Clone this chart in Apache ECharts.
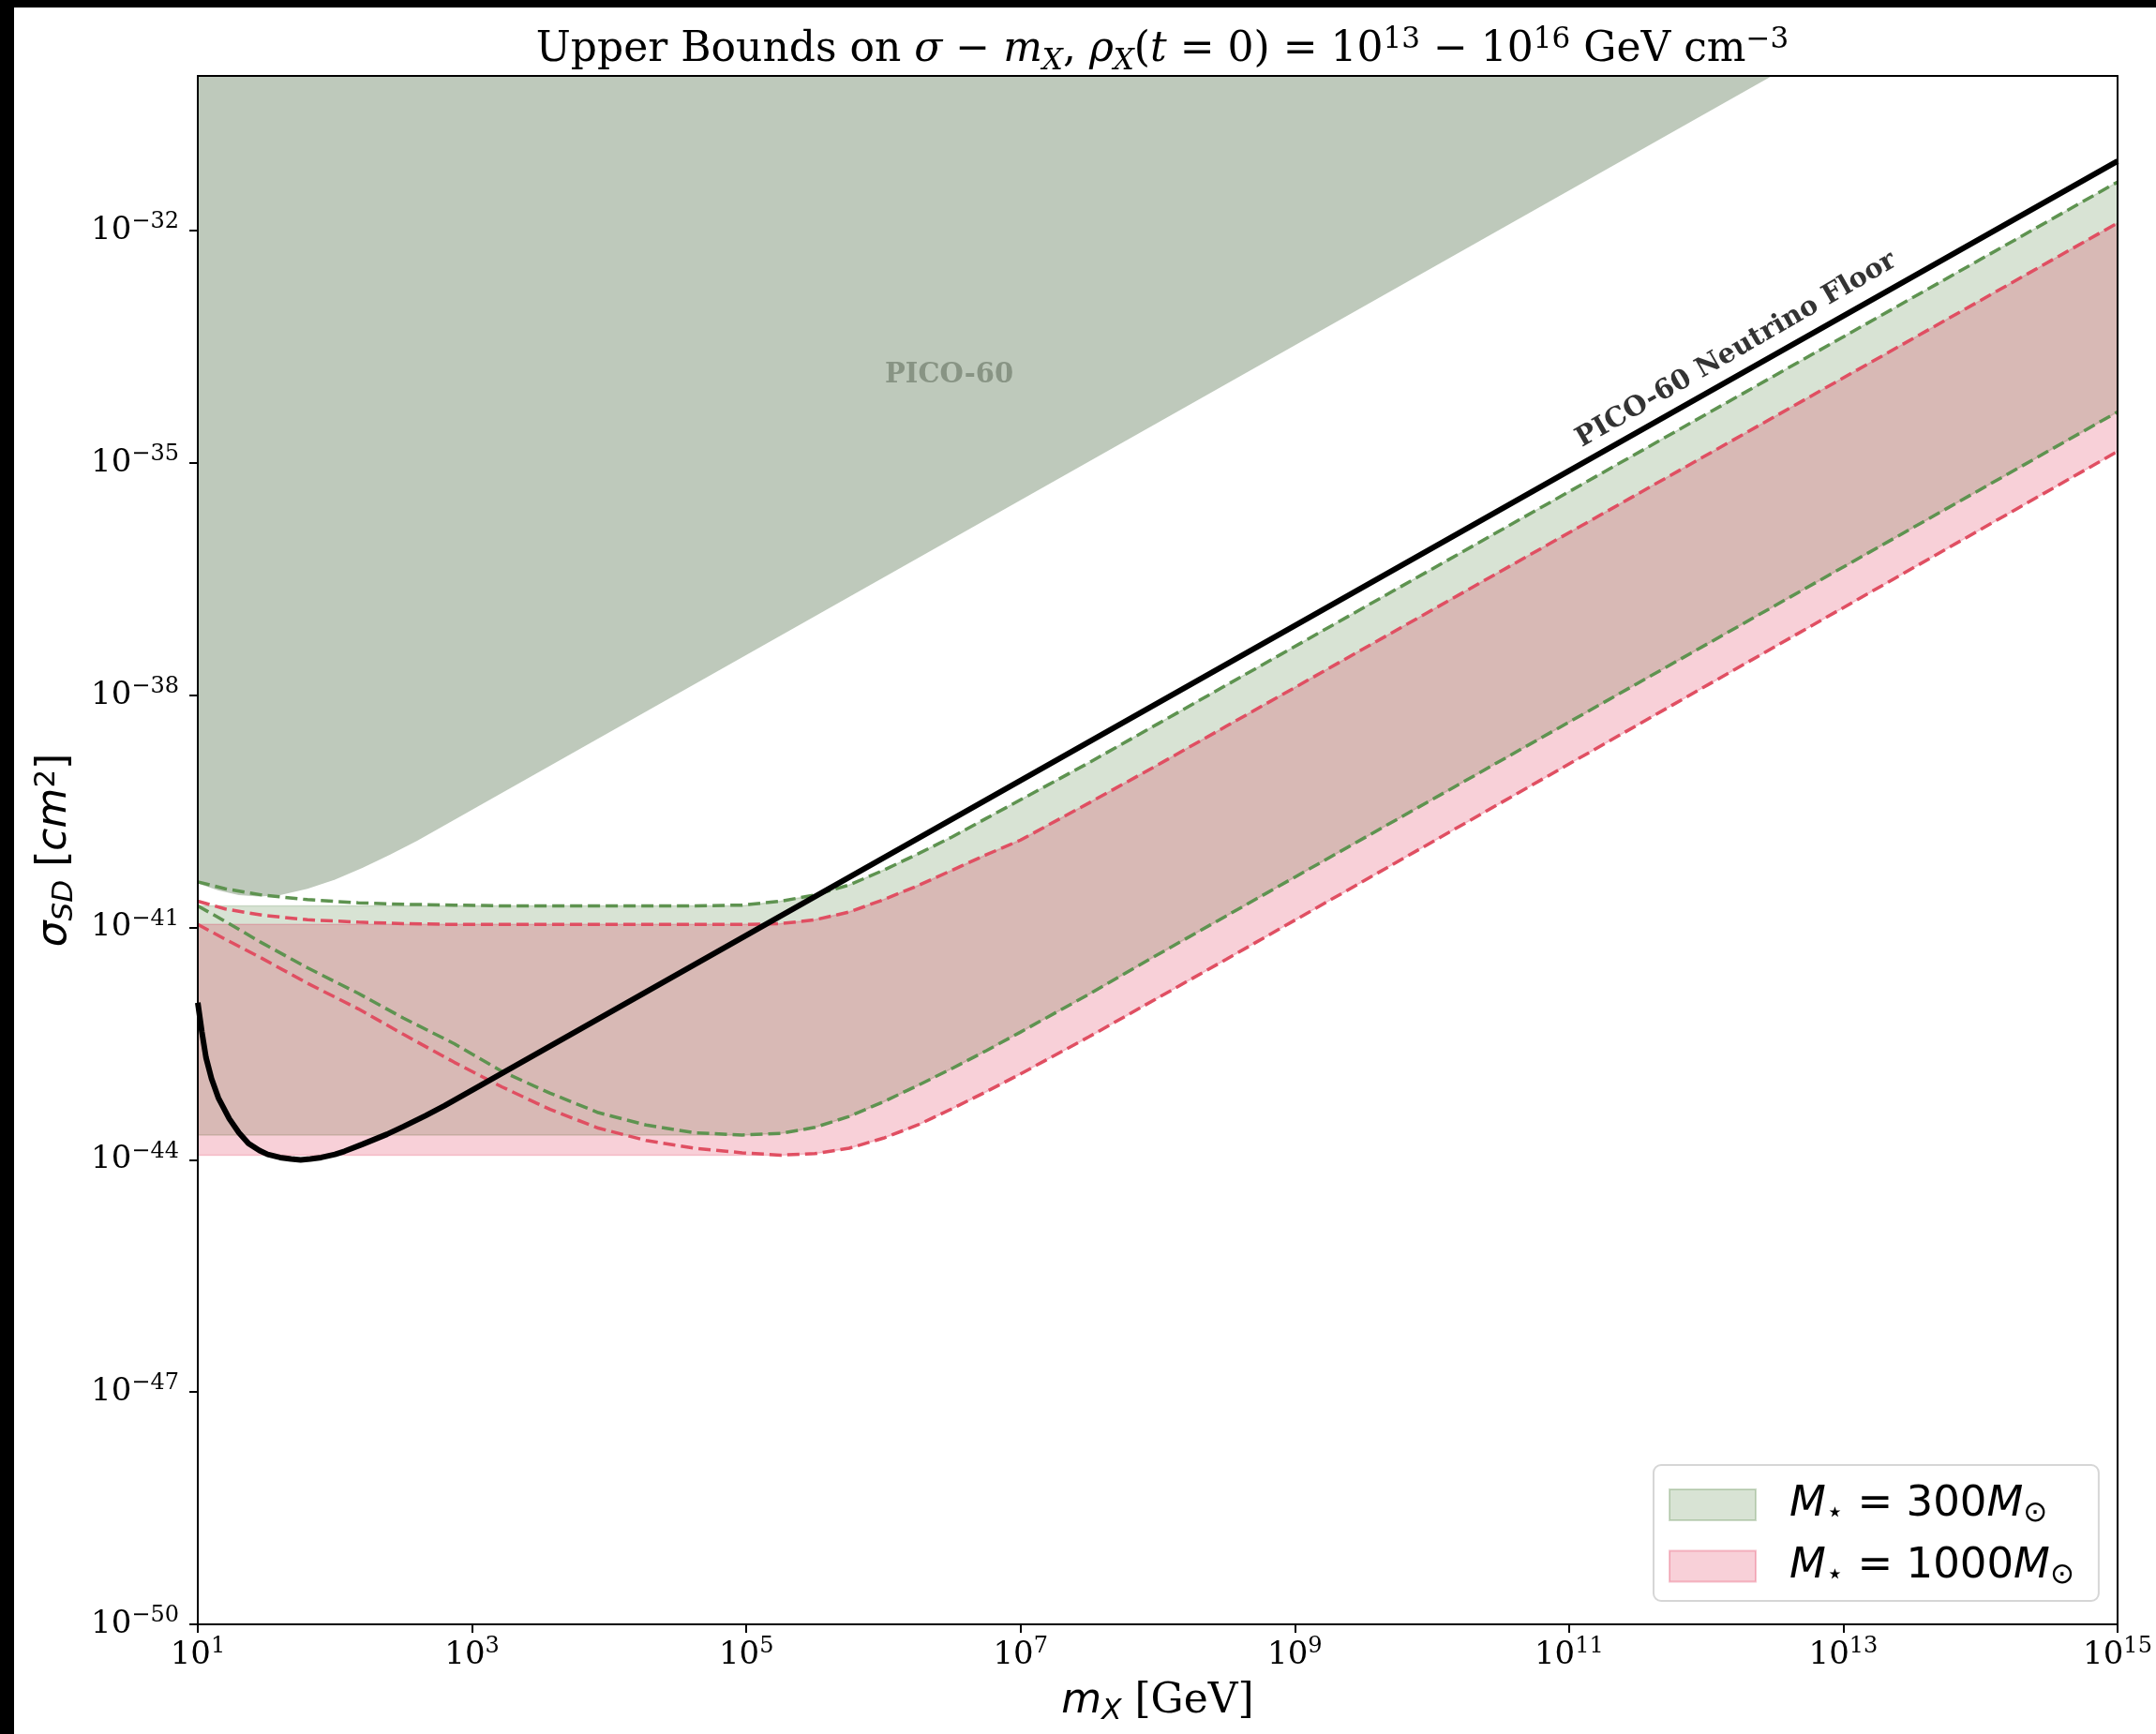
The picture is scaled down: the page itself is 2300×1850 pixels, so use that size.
<!DOCTYPE html>
<html>
<head>
<meta charset="utf-8">
<title>Upper Bounds on sigma - m_X</title>
<script src="https://cdn.jsdelivr.net/npm/echarts@6/dist/echarts.min.js"></script>
<style>
  html, body { margin: 0; padding: 0; background: #fff; }
  #chart { width: 2300px; height: 1850px; }
</style>
</head>
<body>
<div id="chart"></div>
<script>
// every value is a decimal exponent: x = log10(m_X / GeV), y = log10(sigma_SD / cm^2)
const xTicks = [1, 3, 5, 7, 9, 11, 13, 15];
const yTicks = [-50, -47, -44, -41, -38, -35, -32];

// lower edge of the PICO-60 excluded region
const picoX = [1.0, 1.15, 1.3, 1.45, 1.6, 1.8, 2.0, 2.2, 2.4, 2.6, 12.48];
const picoY = [-40.43, -40.52, -40.58, -40.6, -40.58, -40.5, -40.38, -40.23, -40.06, -39.88, -30.0];

// PICO-60 neutrino floor
const floorX = [1.0, 1.03, 1.06, 1.1, 1.15, 1.23, 1.3, 1.37, 1.45, 1.51, 1.6, 1.68, 1.75, 1.82,
  1.9, 2.0, 2.07, 2.2, 2.38, 2.5, 2.66, 2.8, 3.0, 15.0];
const floorY = [-41.97, -42.35, -42.68, -42.95, -43.2, -43.47, -43.65, -43.79, -43.88, -43.93, -43.97, -43.99, -44.0, -43.99,
  -43.97, -43.93, -43.89, -43.8, -43.67, -43.57, -43.43, -43.3, -43.1, -31.1];

// mass grid shared by the two M_star bands
const bandX = [1.0, 1.2, 1.47, 1.8, 2.17, 2.5, 2.87, 3.22, 3.57, 3.92, 4.27, 4.62, 4.97,
  5.25, 5.5, 5.75, 6.0, 6.25, 6.5, 6.75, 7.0, 7.5, 8.0, 8.5, 15.0];

// dashed curves
const m300Upper = [-40.41, -40.5, -40.58, -40.64, -40.68, -40.7, -40.71, -40.72, -40.72, -40.72, -40.72, -40.72, -40.71,
  -40.66, -40.58, -40.45, -40.26, -40.05, -39.83, -39.59, -39.35, -38.87, -38.37, -37.87, -31.37];
const m300Lower = [-40.72, -40.92, -41.2, -41.52, -41.85, -42.17, -42.5, -42.86, -43.14, -43.39, -43.55, -43.65, -43.68,
  -43.66, -43.58, -43.44, -43.25, -43.04, -42.82, -42.59, -42.35, -41.86, -41.35, -40.85, -34.34];
const m1000Upper = [-40.66, -40.76, -40.84, -40.9, -40.93, -40.95, -40.96, -40.96, -40.96, -40.96, -40.96, -40.96, -40.96,
  -40.95, -40.9, -40.8, -40.64, -40.46, -40.26, -40.06, -39.87, -39.39, -38.9, -38.4, -31.9];
const m1000Lower = [-40.96, -41.15, -41.4, -41.72, -42.05, -42.38, -42.74, -43.06, -43.35, -43.59, -43.75, -43.85, -43.91,
  -43.94, -43.92, -43.85, -43.72, -43.55, -43.34, -43.12, -42.89, -42.41, -41.91, -41.41, -34.85];

// shaded band edges (flat at low mass, then on the dashed curves)
const m300FillTop = [-40.72, -40.72, -40.72, -40.72, -40.72, -40.72, -40.72, -40.72, -40.72, -40.72, -40.72, -40.72, -40.72,
  -40.66, -40.58, -40.45, -40.26, -40.05, -39.83, -39.59, -39.35, -38.87, -38.37, -37.87, -31.37];
const m300FillBottom = [-43.68, -43.68, -43.68, -43.68, -43.68, -43.68, -43.68, -43.68, -43.68, -43.68, -43.68, -43.68, -43.68,
  -43.66, -43.58, -43.44, -43.25, -43.04, -42.82, -42.59, -42.35, -41.86, -41.35, -40.85, -34.34];
const m1000FillTop = [-40.96, -40.96, -40.96, -40.96, -40.96, -40.96, -40.96, -40.96, -40.96, -40.96, -40.96, -40.96, -40.96,
  -40.95, -40.9, -40.8, -40.64, -40.46, -40.26, -40.06, -39.87, -39.39, -38.9, -38.4, -31.9];
const m1000FillBottom = [-43.94, -43.94, -43.94, -43.94, -43.94, -43.94, -43.94, -43.94, -43.94, -43.94, -43.94, -43.94, -43.94,
  -43.94, -43.92, -43.85, -43.72, -43.55, -43.34, -43.12, -42.89, -42.41, -41.91, -41.41, -34.85];

// text notes inside the plot
const noteX = [6.48, 12.22];
const noteY = [-33.87, -33.54];
const noteText = ['PICO-60', 'PICO-60 Neutrino Floor'];

const SERIF = 'DejaVu Serif';
const SANS = 'DejaVu Sans';
const GREEN_FILL = 'rgba(60,115,40,0.2)';
const RED_FILL = 'rgba(220,20,60,0.2)';
const GREEN_LINE = '#5e9350';
const RED_LINE = '#e04f62';

const pairs = (xs, ys) => xs.map((x, i) => [x, ys[i]]);

function polygonSeries(name, xs, top, bottom, fill, z) {
  return {
    name: name,
    type: 'custom',
    coordinateSystem: 'cartesian2d',
    silent: true,
    z: z,
    data: [[xs[0], top[0]]],
    renderItem: function (params, api) {
      const pts = xs.map((x, i) => api.coord([x, top[i]]));
      for (let i = xs.length - 1; i >= 0; i--) pts.push(api.coord([xs[i], bottom[i]]));
      return {
        type: 'polygon',
        shape: { points: pts },
        style: { fill: fill, stroke: fill, lineWidth: 1.5 }
      };
    }
  };
}

function dashed(name, ys, color) {
  return {
    name: name,
    type: 'line',
    data: pairs(bandX, ys),
    showSymbol: false,
    silent: true,
    z: 5,
    lineStyle: { color: color, width: 3.5, type: [13, 6] }
  };
}

const tickRich = {
  b: { fontFamily: SERIF, fontSize: 34, lineHeight: 42, color: '#000' },
  s: { fontFamily: SERIF, fontSize: 24, lineHeight: 24, verticalAlign: 'top', color: '#000' }
};
const expLabel = v => '{b|10}{s|' + (v < 0 ? '\u2212' + Math.abs(v) : v) + '}';

const chart = echarts.init(document.getElementById('chart'), null, { renderer: 'canvas' });

const option = {
  animation: false,
  backgroundColor: '#fff',
  title: {
    left: 1235,
    top: 22,
    textAlign: 'center',
    text: '{r|Upper Bounds on }{i|\u03c3}{r| \u2212 }{i|m}{sub|X}{r|, }{i|\u03c1}{sub|X}{r|(}{i|t}{r| = 0) = 10}{sup|13}{r| \u2212 10}{sup|16}{r| GeV cm}{sup|\u22123}',
    textStyle: {
      fontWeight: 'normal',
      rich: {
        r: { fontFamily: SERIF, fontWeight: 'normal', fontSize: 44, lineHeight: 54, color: '#000' },
        i: { fontFamily: SERIF, fontWeight: 'normal', fontStyle: 'italic', fontSize: 44, lineHeight: 54, color: '#000' },
        sub: { fontFamily: SERIF, fontWeight: 'normal', fontStyle: 'italic', fontSize: 31, lineHeight: 32, verticalAlign: 'bottom', color: '#000' },
        sup: { fontFamily: SERIF, fontWeight: 'normal', fontSize: 31, lineHeight: 28, verticalAlign: 'top', color: '#000' }
      }
    }
  },
  grid: { left: 211, right: 41, top: 81, bottom: 117, containLabel: false },
  legend: {
    orient: 'vertical',
    left: 1764,
    top: 1563,
    padding: [20, 26, 12, 16],
    itemGap: 18,
    itemWidth: 92,
    itemHeight: 33,
    selectedMode: false,
    backgroundColor: '#fff',
    borderColor: '#d6d6d6',
    borderWidth: 2,
    borderRadius: 8,
    z: 20,
    data: [
      { name: 'M300', icon: 'rect', itemStyle: { color: GREEN_FILL, borderColor: 'rgba(60,115,40,0.25)', borderWidth: 2 } },
      { name: 'M1000', icon: 'rect', itemStyle: { color: RED_FILL, borderColor: 'rgba(220,20,60,0.25)', borderWidth: 2 } }
    ],
    formatter: function (name) {
      const mass = name.slice(1);
      return '{pad| }{i|M}{sub|\u22c6}{r| = ' + mass + '}{i|M}{sub|\u2299}';
    },
    textStyle: {
      rich: {
        pad: { width: 31, fontSize: 10 },
        r: { fontFamily: SANS, fontSize: 45, lineHeight: 50, color: '#000' },
        i: { fontFamily: SANS, fontStyle: 'italic', fontSize: 45, lineHeight: 50, color: '#000' },
        sub: { fontFamily: SANS, fontSize: 31, lineHeight: 22, verticalAlign: 'bottom', color: '#000' }
      }
    }
  },
  xAxis: [{
    type: 'value',
    min: 1,
    max: 15,
    z: 10,
    axisLine: { show: true, onZero: false, lineStyle: { color: '#000', width: 2 } },
    axisTick: { show: true, length: 9, customValues: xTicks, lineStyle: { color: '#000', width: 2 } },
    axisLabel: { customValues: xTicks, margin: 12, formatter: expLabel, rich: tickRich },
    splitLine: { show: false },
    name: '{i|m}{sub|X}{r| [GeV]}',
    nameLocation: 'middle',
    nameGap: 58,
    nameTextStyle: {
      rich: {
        i: { fontFamily: SANS, fontStyle: 'italic', fontSize: 44, lineHeight: 50, color: '#000' },
        sub: { fontFamily: SANS, fontStyle: 'italic', fontSize: 31, lineHeight: 28, verticalAlign: 'bottom', color: '#000' },
        r: { fontFamily: SERIF, fontSize: 44, lineHeight: 50, color: '#000' }
      }
    }
  }, {
    type: 'value',
    position: 'top',
    min: 1,
    max: 15,
    z: 10,
    axisLine: { show: true, onZero: false, lineStyle: { color: '#000', width: 2 } },
    axisTick: { show: false },
    axisLabel: { show: false },
    splitLine: { show: false }
  }],
  yAxis: [{
    type: 'value',
    min: -50,
    max: -30,
    z: 10,
    axisLine: { show: true, onZero: false, lineStyle: { color: '#000', width: 2 } },
    axisTick: { show: true, length: 9, customValues: yTicks, lineStyle: { color: '#000', width: 2 } },
    axisLabel: { customValues: yTicks, margin: 20, formatter: expLabel, rich: tickRich },
    splitLine: { show: false },
    name: '{i|\u03c3}{sub|SD}{r| [}{i|cm}{sup|2}{r|]}',
    nameLocation: 'middle',
    nameRotate: 90,
    nameGap: 127,
    nameTextStyle: {
      rich: {
        i: { fontFamily: SANS, fontStyle: 'italic', fontSize: 44, lineHeight: 50, color: '#000' },
        r: { fontFamily: SANS, fontSize: 44, lineHeight: 50, color: '#000' },
        sub: { fontFamily: SANS, fontStyle: 'italic', fontSize: 31, lineHeight: 28, verticalAlign: 'bottom', color: '#000' },
        sup: { fontFamily: SANS, fontSize: 31, lineHeight: 26, verticalAlign: 'top', color: '#000' }
      }
    }
  }, {
    type: 'value',
    position: 'right',
    min: -50,
    max: -30,
    z: 10,
    axisLine: { show: true, onZero: false, lineStyle: { color: '#000', width: 2 } },
    axisTick: { show: false },
    axisLabel: { show: false },
    splitLine: { show: false }
  }],
  graphic: [
    { type: 'rect', left: 0, top: 0, shape: { width: 15, height: 1850 }, style: { fill: '#000' }, z: 100 },
    { type: 'rect', left: 0, top: 0, shape: { width: 2300, height: 8 }, style: { fill: '#000' }, z: 100 }
  ],
  series: [
    {
      name: 'PICO-60 region',
      type: 'custom',
      coordinateSystem: 'cartesian2d',
      silent: true,
      z: 1,
      data: [[picoX[0], picoY[0]]],
      renderItem: function (params, api) {
        const pts = picoX.map((x, i) => api.coord([x, picoY[i]]));
        pts.push(api.coord([picoX[picoX.length - 1], -30]));
        pts.push(api.coord([picoX[0], -30]));
        return { type: 'polygon', shape: { points: pts }, style: { fill: '#bec9bb' } };
      }
    },
    polygonSeries('M300', bandX, m300FillTop, m300FillBottom, GREEN_FILL, 2),
    polygonSeries('M1000', bandX, m1000FillTop, m1000FillBottom, RED_FILL, 3),
    dashed('M300 upper', m300Upper, GREEN_LINE),
    dashed('M300 lower', m300Lower, GREEN_LINE),
    dashed('M1000 upper', m1000Upper, RED_LINE),
    dashed('M1000 lower', m1000Lower, RED_LINE),
    {
      name: 'Neutrino floor',
      type: 'line',
      data: pairs(floorX, floorY),
      showSymbol: false,
      silent: true,
      z: 6,
      lineStyle: { color: '#000', width: 6 }
    },
    {
      name: 'notes',
      type: 'scatter',
      symbolSize: 0,
      silent: true,
      z: 8,
      data: noteText.map((t, i) => ({
        name: t,
        value: [noteX[i], noteY[i]],
        label: i === 0
          ? { color: '#7b8777', rotate: 0 }
          : { color: '#000', rotate: 30 }
      })),
      label: {
        show: true,
        position: 'inside',
        formatter: '{b}',
        fontFamily: SERIF,
        fontWeight: 'bold',
        fontSize: 29,
        textBorderWidth: 0
      }
    }
  ]
};

chart.setOption(option);
</script>
</body>
</html>
